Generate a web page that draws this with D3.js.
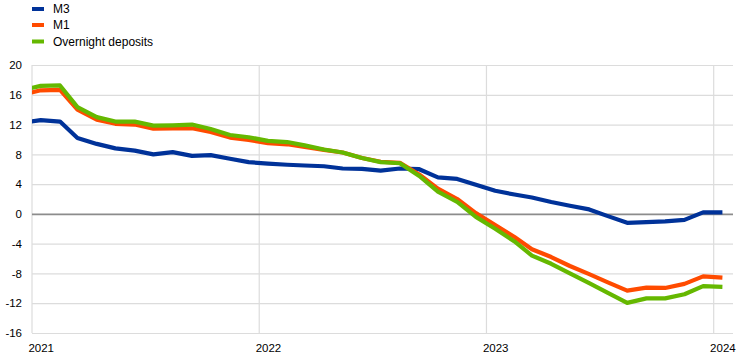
<!DOCTYPE html>
<html>
<head>
<meta charset="utf-8">
<script src="https://cdn.jsdelivr.net/npm/d3@7"></script>
<style>
  html, body { margin: 0; padding: 0; background: #fff; }
  svg { display: block; font-family: "Liberation Sans", Arial, sans-serif; }
</style>
</head>
<body>
<svg id="chart" width="742" height="359"></svg>
<script>
// ---- data (monthly, Dec 2020 – Jan 2024; first point lies left of the axis and is clipped) ----
const months = [
  "2020-12",
  "2021-01","2021-02","2021-03","2021-04","2021-05","2021-06","2021-07","2021-08","2021-09","2021-10","2021-11","2021-12",
  "2022-01","2022-02","2022-03","2022-04","2022-05","2022-06","2022-07","2022-08","2022-09","2022-10","2022-11","2022-12",
  "2023-01","2023-02","2023-03","2023-04","2023-05","2023-06","2023-07","2023-08","2023-09","2023-10","2023-11","2023-12",
  "2024-01"
];
const m3 = [
  12.2,
  12.6, 12.4, 10.2, 9.4, 8.8, 8.5, 8.0, 8.3, 7.8, 7.9, 7.4, 6.95,
  6.75, 6.6, 6.5, 6.4, 6.1, 6.05, 5.8, 6.1, 6.0, 4.9, 4.7, 3.9,
  3.1, 2.6, 2.2, 1.6, 1.1, 0.6, -0.3, -1.2, -1.1, -1.0, -0.8, 0.2,
  0.2
];
const m1 = [
  16.0,
  16.6, 16.65, 14.0, 12.65, 12.1, 12.0, 11.45, 11.5, 11.5, 11.0, 10.25, 9.95,
  9.5, 9.35, 9.0, 8.6, 8.25, 7.5, 7.0, 6.85, 5.3, 3.4, 2.0, 0.1,
  -1.5, -3.1, -4.75, -5.8, -7.0, -8.1, -9.2, -10.3, -9.9, -9.95, -9.4, -8.4,
  -8.55
];
const overnight = [
  16.6,
  17.2, 17.25, 14.35, 13.0, 12.4, 12.4, 11.85, 11.9, 12.0, 11.4, 10.6, 10.3,
  9.8, 9.65, 9.2, 8.65, 8.25, 7.5, 6.95, 6.8, 5.1, 3.0, 1.6, -0.4,
  -2.0, -3.7, -5.6, -6.7, -8.0, -9.3, -10.6, -11.95, -11.35, -11.35, -10.8, -9.7,
  -9.8
];
const seriesNames = ["M3", "M1", "Overnight deposits"];
const seriesColors = ["#003299", "#ff4b00", "#65b800"];
const yTicks = [-16, -12, -8, -4, 0, 4, 8, 12, 16, 20];
const yearTicks = ["2021", "2022", "2023", "2024"];

// ---- layout ----
const svg = d3.select("#chart");
const plot = { left: 32, right: 733, top: 65, bottom: 333 };

const parseMonth = d3.timeParse("%Y-%m");
const midMonth = s => { const d = parseMonth(s); return d3.timeDay.offset(d, 14); };

const x = d3.scaleTime()
  .domain([new Date(2021, 0, 1), new Date(2024, 1, 1)])
  .range([plot.left, plot.right]);
const y = d3.scaleLinear().domain([-16, 20]).range([plot.bottom, plot.top]);

// clip
svg.append("defs").append("clipPath").attr("id", "clip")
  .append("rect")
  .attr("x", plot.left).attr("y", plot.top - 10)
  .attr("width", plot.right - plot.left).attr("height", plot.bottom - plot.top + 20);

// horizontal grid
const gy = d3.axisLeft(y).tickValues(yTicks).tickSize(-(plot.right - plot.left)).tickFormat(d => d);
const gyG = svg.append("g").attr("transform", `translate(${plot.left},0)`).call(gy);
gyG.select(".domain").remove();
gyG.selectAll(".tick line")
  .attr("stroke", d => d === 0 ? "#8c8c8c" : "#dcdcdc")
  .attr("stroke-width", d => d === 0 ? 1.6 : 1.2);
gyG.selectAll(".tick text")
  .attr("x", -10)
  .attr("fill", "#000")
  .style("font-size", "11.5px");

// vertical year grid lines
const yearDates = yearTicks.map(s => new Date(+s, 0, 1));
svg.append("g").selectAll("line").data(yearDates).join("line")
  .attr("x1", d => x(d)).attr("x2", d => x(d))
  .attr("y1", plot.top).attr("y2", plot.bottom)
  .attr("stroke", "#dcdcdc").attr("stroke-width", 1.2);

// bring zero line above vertical grid
gyG.raise();
gyG.selectAll(".tick").filter(d => d !== 0).lower();

// x labels centred on mid-January
const xa = d3.axisBottom(x)
  .tickValues(yearTicks.map(s => midMonth(s + "-01")))
  .tickSize(0)
  .tickFormat(d3.timeFormat("%Y"));
const xaG = svg.append("g").attr("transform", `translate(0,${plot.bottom})`).call(xa);
xaG.select(".domain").remove();
xaG.selectAll(".tick text").attr("dy", 0).attr("y", 19)
  .attr("fill", "#000").style("font-size", "11.5px");

// lines
const allSeries = [m3, m1, overnight];
const line = d3.line()
  .x((d, i) => x(midMonth(months[i])))
  .y(d => y(d));
const lg = svg.append("g").attr("clip-path", "url(#clip)");
allSeries.forEach((s, k) => {
  lg.append("path")
    .datum(s)
    .attr("d", line)
    .attr("fill", "none")
    .attr("stroke", seriesColors[k])
    .attr("stroke-width", 4.2)
    .attr("stroke-linejoin", "round");
});

// legend
const legend = svg.append("g");
const legY = [9, 25, 41.5];
seriesNames.forEach((name, k) => {
  legend.append("line")
    .attr("x1", 32).attr("x2", 44)
    .attr("y1", legY[k]).attr("y2", legY[k])
    .attr("stroke", seriesColors[k]).attr("stroke-width", 4);
  legend.append("text")
    .attr("x", 53).attr("y", legY[k])
    .attr("dy", "0.35em")
    .attr("fill", "#000")
    .style("font-size", "12px")
    .text(name);
});
</script>
</body>
</html>
